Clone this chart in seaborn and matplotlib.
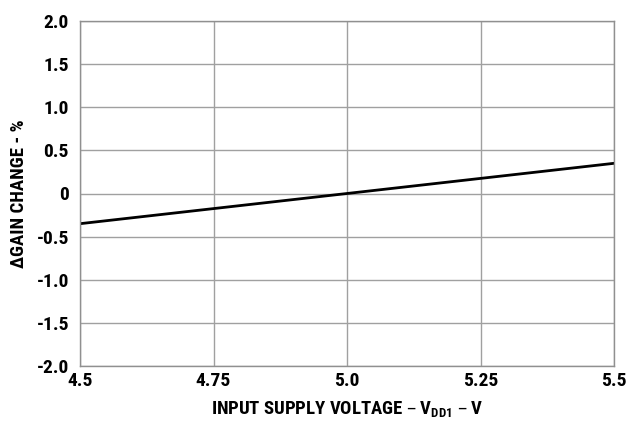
import matplotlib
matplotlib.use("Agg")
import matplotlib.pyplot as plt
import seaborn as sns
import pandas as pd

# data
voltage = [4.5, 5.0, 5.5]
gain_change = [-0.35, 0.0, 0.35]
x_ticks = [4.5, 4.75, 5.0, 5.25, 5.5]
x_labels = ["4.5", "4.75", "5.0", "5.25", "5.5"]
y_ticks = [-2.0, -1.5, -1.0, -0.5, 0, 0.5, 1.0, 1.5, 2.0]
y_labels = ["-2.0", "-1.5", "-1.0", "-0.5", "0", "0.5", "1.0", "1.5", "2.0"]

sns.set_theme(style="white")
plt.rcParams["font.family"] = ["Liberation Sans Narrow", "Roboto Condensed",
                               "DejaVu Sans Condensed", "DejaVu Sans"]
plt.rcParams["font.weight"] = "bold"
plt.rcParams["mathtext.default"] = "regular"
plt.rcParams["text.color"] = "black"

df = pd.DataFrame({"v": voltage, "g": gain_change})

fig = plt.figure(figsize=(6.43, 4.25), dpi=100)
ax = fig.add_axes([80 / 643, 1 - 366 / 425, (614 - 80) / 643, (366 - 21) / 425])
sns.lineplot(data=df, x="v", y="g", color="black", linewidth=2, ax=ax)

ax.set_xlim(4.5, 5.5)
ax.set_ylim(-2.0, 2.0)
ax.set_xticks(x_ticks, x_labels)
ax.set_yticks(y_ticks, y_labels)
ax.grid(True, color="#a0a0a0", linewidth=1)
for s in ax.spines.values():
    s.set_color("#909090")
    s.set_linewidth(1)
ax.tick_params(axis="both", length=0, labelsize=14, colors="black")
ax.tick_params(axis="x", pad=4)
ax.tick_params(axis="y", pad=8)
for lab in ax.get_xticklabels() + ax.get_yticklabels():
    lab.set_fontweight("bold")

ax.set_xlabel("INPUT SUPPLY VOLTAGE – V$_{DD1}$ – V", fontsize=13.5,
              fontweight="bold", color="black", labelpad=7)
ax.set_ylabel("∆GAIN CHANGE - %", fontsize=13.5, fontweight="bold",
              color="black", labelpad=6)

fig.savefig("out.png", dpi=100)
